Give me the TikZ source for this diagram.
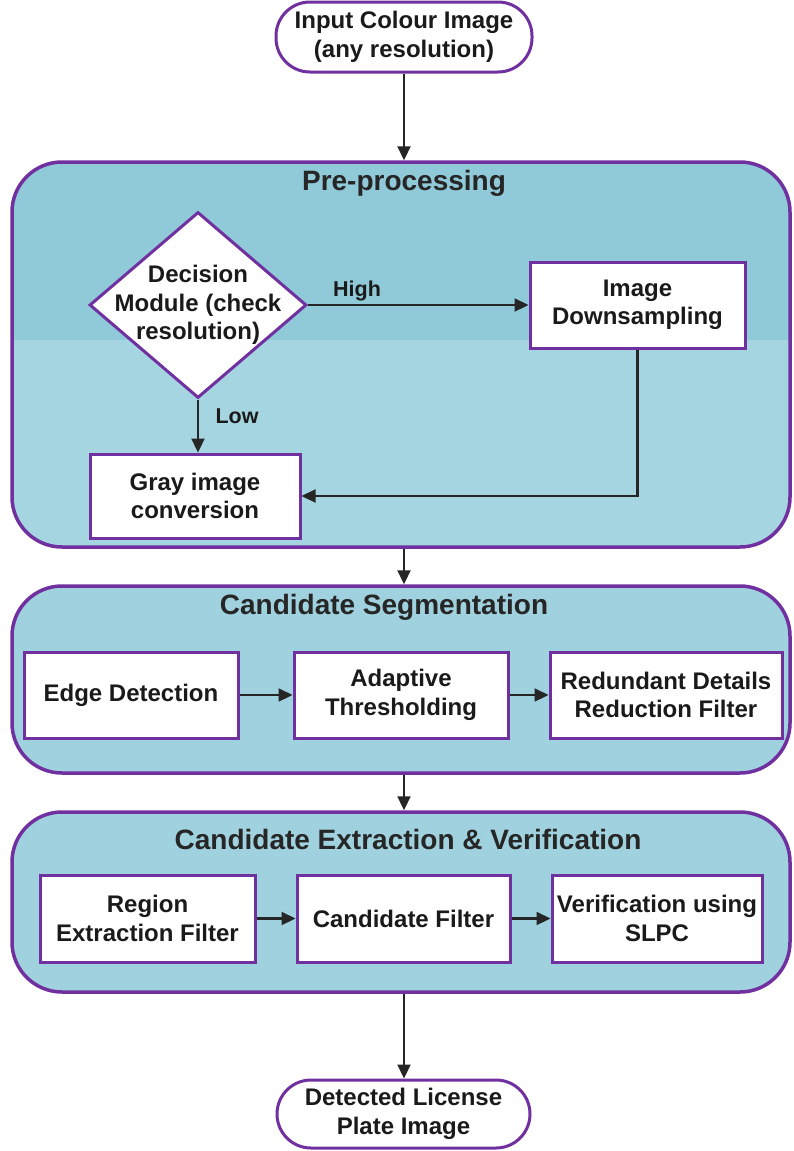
\documentclass[tikz,border=0pt]{standalone}
\usepackage{fontspec}
\setmainfont{Liberation Sans}
\usetikzlibrary{shapes.geometric,arrows.meta}
\definecolor{frame}{HTML}{7030A0}
\definecolor{tealtop}{HTML}{90CAD9}
\definecolor{tealbot}{HTML}{A6D5E2}
\definecolor{tealbox}{HTML}{A0D1DE}
\definecolor{ink}{HTML}{1A1A1A}
\newcommand\fbody{\bfseries\fontsize{24}{28.5}\selectfont}
\newcommand\ftitle{\bfseries\fontsize{28}{32}\selectfont}
\newcommand\flabel{\bfseries\fontsize{21.5}{24}\selectfont}
\begin{document}
\begin{tikzpicture}[x=1pt,y=-1pt,
  term/.style={draw=frame, line width=3pt, fill=white, rounded corners=34pt,
    minimum width=256pt, minimum height=70pt, align=center, font=\fbody, text=ink},
  container/.style={draw=frame, line width=3.5pt, rounded corners=50pt},
  proc/.style={draw=frame, line width=3pt, fill=white, minimum height=86pt,
    align=center, font=\fbody, text=ink, inner sep=1pt},
  ttl/.style={font=\ftitle, text=black!85},
  lbl/.style={font=\flabel, text=ink},
  arr/.style={line width=2.2pt, draw=black!85, -{Triangle[length=14pt,width=13pt]}}]
\useasboundingbox (0,0) rectangle (794,1151);

% input terminal
\node[term] (in) at (404,37) {Input Colour Image\\(any resolution)};

% pre-processing stage (two-tone fill)
\begin{scope}
  \clip[rounded corners=50pt] (12,162) rectangle (790,547);
  \fill[tealtop] (12,162) rectangle (790,340);
  \fill[tealbot] (12,340) rectangle (790,547);
\end{scope}
\node[container, minimum width=778pt, minimum height=385pt] (pre) at (401,354.5) {};
\node[ttl] (pretitle) at (404,183) {Pre-processing};
\node[diamond, draw=frame, line width=3pt, fill=white, inner sep=0pt,
  minimum width=217pt, minimum height=186pt] (dec) at (198,305) {};
\node[font=\fbody, text=ink, align=center] (dectext) at (198,305) {Decision\\Module (check\\resolution)};
\node[proc, minimum width=215pt] (ds) at (637.5,305) {Image\\Downsampling};
\node[proc, minimum width=210pt, minimum height=84pt] (gray) at (195,496) {Gray image\\conversion};
\node[lbl] (hi) at (357,291) {High};
\node[lbl] (lo) at (237,416) {Low};
\draw[arr] (dec.east) -- (ds.west);
\draw[arr] (dec.south) -- (dec.south |- gray.north);
\draw[arr] (ds.south) |- (gray.east);

% candidate segmentation stage
\node[container, fill=tealbox, minimum width=778pt, minimum height=187pt] (seg) at (401,679.5) {};
\node[ttl] (segtitle) at (384,607) {Candidate Segmentation};
\node[proc, minimum width=214pt] (edge) at (131,695) {Edge Detection};
\node[proc, minimum width=214pt] (adapt) at (401,695) {Adaptive\\Thresholding};
\node[proc, minimum width=232pt] (redun) at (666,695) {Redundant Details\\Reduction Filter};
\draw[arr] (edge.east) -- (adapt.west);
\draw[arr] (adapt.east) -- (redun.west);

% candidate extraction & verification stage
\node[container, fill=tealbox, minimum width=778pt, minimum height=180pt] (ext) at (401,902) {};
\node[ttl] (exttitle) at (408,839) {Candidate Extraction \& Verification};
\node[proc, minimum width=215pt, minimum height=87pt] (region) at (147.5,918.5) {Region\\Extraction Filter};
\node[proc, minimum width=213pt, minimum height=87pt] (cand) at (403.5,918.5) {Candidate Filter};
\node[proc, minimum width=210pt, minimum height=87pt] (verif) at (657,918.5) {Verification using\\SLPC};
\draw[arr] (region.east) -- (cand.west);
\draw[arr] (cand.east) -- (verif.west);

% output terminal
\node[term, minimum width=253pt, minimum height=68pt] (out) at (403.5,1114) {Detected License\\Plate Image};

% connectors between stages
\draw[arr] (in.south) -- (in.south |- pre.north);
\draw[arr] (in.south |- pre.south) -- (in.south |- seg.north);
\draw[arr] (in.south |- seg.south) -- (in.south |- ext.north);
\draw[arr] (in.south |- ext.south) -- (in.south |- out.north);
\end{tikzpicture}
\end{document}
